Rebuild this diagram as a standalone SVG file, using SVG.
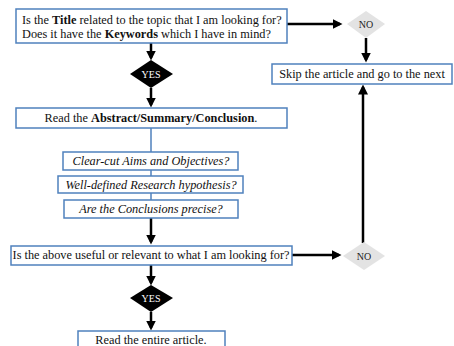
<svg xmlns="http://www.w3.org/2000/svg" width="454" height="346" viewBox="0 0 454 346">
<style>
.box{fill:#fff;stroke:#4f81bd;stroke-width:1.5}
.t{font-family:"Liberation Serif","DejaVu Serif",serif;font-size:12.3px;fill:#111}
.i{font-style:italic}
.b{font-weight:bold}
.arr{stroke:#000;stroke-width:2.5;fill:none;marker-end:url(#ah)}
.bl{stroke:#4f81bd;stroke-width:1.5}
.yes{fill:#000}
.no{fill:#e3e3e3}
.yt{font-family:"Liberation Serif","DejaVu Serif",serif;font-size:10px;fill:#fff}
.nt{font-family:"Liberation Serif","DejaVu Serif",serif;font-size:10px;fill:#222}
</style>
<defs>
<marker id="ah" markerWidth="4" markerHeight="4" refX="3" refY="2" orient="auto" markerUnits="strokeWidth">
<path d="M0,0 L4,2 L0,4 Z" fill="#000"/>
</marker>
</defs>
<g id="connectors">
<line class="arr" x1="287" y1="24" x2="340" y2="24"/>
<line class="arr" x1="366" y1="38" x2="366" y2="60"/>
<line class="arr" x1="151" y1="43" x2="151" y2="58"/>
<line class="arr" x1="151" y1="88" x2="151" y2="105"/>
<line class="bl" x1="151" y1="128" x2="151" y2="152"/>
<line class="bl" x1="151" y1="170" x2="151" y2="176"/>
<line class="bl" x1="151" y1="193" x2="151" y2="200"/>
<line class="arr" x1="151" y1="218" x2="151" y2="242"/>
<line class="arr" x1="292" y1="255" x2="339" y2="255"/>
<line class="arr" x1="363" y1="243" x2="363" y2="87"/>
<line class="arr" x1="151" y1="265" x2="151" y2="283"/>
<line class="arr" x1="151" y1="312" x2="151" y2="328"/>
</g>
<g id="n1">
<rect class="box" x="16" y="9" width="271" height="34"/>
<text class="t" x="22" y="24">Is the <tspan class="b">Title</tspan> related to the topic that I am looking for?</text>
<text class="t" x="22" y="38">Does it have the <tspan class="b">Keywords</tspan> which I have in mind?</text>
</g>
<g id="no1">
<polygon class="no" points="347,24 366,11 385,24 366,38"/>
<text class="nt" x="366" y="28" text-anchor="middle">NO</text>
</g>
<g id="skip">
<rect class="box" x="272" y="64" width="180" height="20"/>
<text class="t" x="362" y="78" text-anchor="middle">Skip the article and go to the next</text>
</g>
<g id="yes1">
<polygon class="yes" points="130,74 151,60 173,74 151,88"/>
<text class="yt" x="151" y="78" text-anchor="middle">YES</text>
</g>
<g id="n2">
<rect class="box" x="16" y="108" width="271" height="20"/>
<text class="t" x="151" y="122" text-anchor="middle">Read the <tspan class="b">Abstract/Summary/Conclusion</tspan>.</text>
</g>
<g id="n3">
<rect class="box" x="63" y="152" width="175" height="18"/>
<text class="t i" x="151" y="165" text-anchor="middle">Clear-cut Aims and Objectives?</text>
</g>
<g id="n4">
<rect class="box" x="58" y="176" width="185" height="17"/>
<text class="t i" x="151" y="189" text-anchor="middle">Well-defined Research hypothesis?</text>
</g>
<g id="n5">
<rect class="box" x="64" y="200" width="174" height="18"/>
<text class="t i" x="151" y="213" text-anchor="middle">Are the Conclusions precise?</text>
</g>
<g id="n6">
<rect class="box" x="11" y="246" width="281" height="19"/>
<text class="t" x="151" y="259" text-anchor="middle">Is the above useful or relevant to what I am looking for?</text>
</g>
<g id="no2">
<polygon class="no" points="343,256 364,242 385,256 364,270"/>
<text class="nt" x="364" y="260" text-anchor="middle">NO</text>
</g>
<g id="yes2">
<polygon class="yes" points="130,298 151,285 173,298 151,312"/>
<text class="yt" x="151" y="302" text-anchor="middle">YES</text>
</g>
<g id="n7">
<rect class="box" x="78" y="331" width="147" height="22"/>
<text class="t" x="151" y="344" text-anchor="middle">Read the entire article.</text>
</g>
</svg>
